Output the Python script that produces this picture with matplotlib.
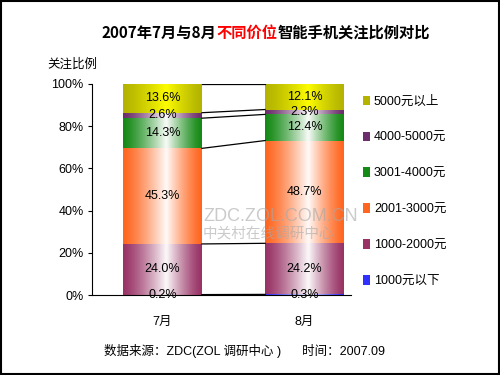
import numpy as np
import matplotlib
matplotlib.use("Agg")
import matplotlib.pyplot as plt
from matplotlib.colors import to_rgb
from matplotlib.patches import Patch, Rectangle
from matplotlib.offsetbox import TextArea, HPacker, AnchoredOffsetbox

plt.rcParams['font.family'] = ['Liberation Sans', 'Noto Sans CJK SC', 'DejaVu Sans']

# data
months = ['7月', '8月']
segments = ['1000元以下', '1000-2000元', '2001-3000元', '3001-4000元', '4000-5000元', '5000元以上']
values = {
    '7月': [0.2, 24.0, 45.3, 14.3, 2.6, 13.6],
    '8月': [0.3, 24.2, 48.7, 12.4, 2.3, 12.1],
}
edge_colors = ['#3030ff', '#993366', '#ff6620', '#158a15', '#6b2d6b', '#b4b400']
mid_colors = ['#ffffff', '#ffffff', '#ffffff', '#ffffff', '#ffffff', '#ffff00']

fig = plt.figure(figsize=(5, 3.75), dpi=100)
ax = fig.add_axes([0.184, 0.2133, 0.518, 0.5627])

bar_w = 0.556
xs = np.linspace(0, 1, 80)
# horizontal gradient: dark at edges, light near 55% across
w = np.where(xs < 0.55, xs / 0.55, (1 - xs) / 0.45)
w = np.clip(w, 0, 1) ** 1.3 * 0.97


def gradient(c_edge, c_mid):
    a = np.array(to_rgb(c_edge))
    b = np.array(to_rgb(c_mid))
    img = a[None, :] * (1 - w[:, None]) + b[None, :] * w[:, None]
    return img[None, :, :]


tops = {}
for i, m in enumerate(months):
    bottom = 0
    tops[m] = []
    for j, v in enumerate(values[m]):
        ax.imshow(gradient(edge_colors[j], mid_colors[j]),
                  extent=[i - bar_w / 2, i + bar_w / 2, bottom, bottom + v],
                  aspect='auto', interpolation='bilinear', zorder=2)
        ax.text(i, bottom + v / 2, f'{v:.1f}%', ha='center', va='center',
                fontsize=9, zorder=5)
        bottom += v
        tops[m].append(bottom)

# series lines between bars
for a, b in zip(tops['7月'], tops['8月']):
    ax.plot([bar_w / 2, 1 - bar_w / 2], [a, b], color='black', lw=0.9, zorder=3)

ax.set_xlim(-0.496, 1.327)
ax.set_ylim(0, 100)
ax.set_yticks(range(0, 101, 20))
ax.set_yticklabels([f'{t}%' for t in range(0, 101, 20)], fontsize=9)
ax.set_xticks(range(len(months)))
ax.set_xticklabels(months, fontsize=9)
ax.tick_params(axis='x', length=0, pad=15)
ax.tick_params(axis='y', length=3, direction='out', pad=3)
ax.spines['top'].set_visible(False)
ax.spines['right'].set_visible(False)

# watermark
ax.text(0.83, 37, 'ZDC.ZOL.COM.CN', ha='center', va='center', fontsize=13,
        color='#a8a8a8', alpha=0.6, zorder=4)
ax.text(0.745, 29, '中关村在线调研中心', ha='center', va='center', fontsize=10.5,
        color='#a8a8a8', alpha=0.6, zorder=4)

# legend
handles = [Patch(facecolor=edge_colors[j], edgecolor='none') for j in range(len(segments))][::-1]
fig.legend(handles, segments[::-1], loc='upper left', bbox_to_anchor=(0.703, 0.775),
           frameon=False, fontsize=9, handlelength=0.6, handleheight=0.8,
           handletextpad=0.3, labelspacing=1.9)

# title with a red part
parts = [('2007年7月与8月', 'black'), ('不同价位', '#ff0000'), ('智能手机关注比例对比', 'black')]
boxes = [TextArea(t, textprops=dict(color=c, fontsize=11, weight='bold',
                                    family='Noto Sans CJK SC')) for t, c in parts]
title = AnchoredOffsetbox(loc='center', child=HPacker(children=boxes, pad=0, sep=0),
                          bbox_to_anchor=(0.532, 0.913), bbox_transform=fig.transFigure,
                          frameon=False, pad=0, borderpad=0)
fig.add_artist(title)

fig.text(0.094, 0.829, '关注比例', ha='left', va='center', fontsize=9)
fig.text(0.49, 0.064, '数据来源：ZDC(ZOL 调研中心 )      时间：2007.09',
         ha='center', va='center', fontsize=9)

fig.patches.append(Rectangle((0.002, 0.003), 0.996, 0.994, transform=fig.transFigure,
                             fill=False, edgecolor='black', lw=1.5))

fig.savefig('out.png', dpi=100)
